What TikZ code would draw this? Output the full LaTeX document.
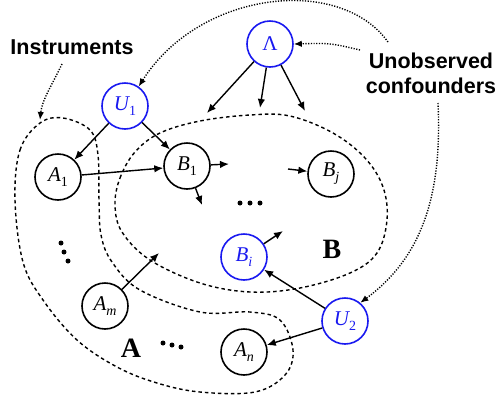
\documentclass[tikz,border=0pt]{standalone}
\usepackage{fontspec}
\setmainfont{Liberation Serif}
\setsansfont{Liberation Sans}
\usetikzlibrary{arrows.meta}
\definecolor{nodeblue}{RGB}{25,25,240}
\newcommand{\nlab}[2]{{\fontsize{21}{22}\selectfont\itshape #1}\raisebox{-5pt}{\fontsize{14}{14}\selectfont #2}}
\begin{document}
\begin{tikzpicture}[x=1pt,y=-1pt,
  vnode/.style={circle, draw, line width=1.6pt, minimum size=46pt, inner sep=0pt},
  bnode/.style={vnode, draw=nodeblue, text=nodeblue},
  arr/.style={-{Latex[length=9pt,width=7.5pt]}, line width=1.4pt},
  dotarr/.style={-{Latex[length=8pt,width=6.5pt]}, line width=1.4pt, dash pattern=on 1.2pt off 1.5pt},
  region/.style={dash pattern=on 3.5pt off 3pt, line width=1.4pt},
  biglab/.style={font=\fontsize{21.5}{25}\selectfont\sffamily\bfseries},
  setlab/.style={font=\fontsize{28}{30}\selectfont\bfseries},
  dotn/.style={circle, fill, inner sep=0pt, minimum size=5pt}]
\useasboundingbox (0,0) rectangle (499,400);

% regions
\draw[region] plot[smooth cycle, tension=0.6] coordinates {
  (15,200) (20,150) (40,123) (63,118) (90,130) (98,155) (99,200) (101,235)
  (112,262) (140,290) (200,312) (250,312) (280,320) (293,350) (285,375)
  (255,392) (200,392) (157,383) (117,367) (77,340) (43,300) (23,262)};
\draw[region] plot[smooth cycle, tension=0.6] coordinates {
  (115,205) (120,178) (135,152) (160,133) (200,121) (250,115) (290,116)
  (333,133) (365,158) (383,187) (387,220) (377,253) (350,273) (300,288)
  (250,292) (200,283) (150,260) (122,232)};

% nodes
\node[bnode] (U1) at (125,106) {\nlab{U}{1}};
\node[bnode] (L) at (270,44) {{\fontsize{21}{22}\selectfont Λ}};
\node[vnode] (A1) at (58,177) {\nlab{A}{1}};
\node[vnode] (B1) at (187,166) {\nlab{B}{1}};
\node[vnode] (Bj) at (331,174) {\nlab{B}{\textit{j}}};
\node[bnode] (Bi) at (244,257) {\nlab{B}{\textit{i}}};
\node[bnode] (U2) at (345,321) {\nlab{U}{2}};
\node[vnode] (Am) at (105,306) {\nlab{A}{\textit{m}}};
\node[vnode] (An) at (244,352) {\nlab{A}{\textit{n}}};

% labels
\node[biglab, anchor=base] (instr) at (72,54) {Instruments};
\node[biglab, align=center, anchor=base] (unobs) at (431,93) {Unobserved\\confounders};
\node[setlab] (setA) at (131,348) {A};
\node[setlab] (setB) at (332,249) {B};

% dots
\node[dotn] (d1) at (240,203) {};
\node[dotn] (d2) at (250,203) {};
\node[dotn] (d3) at (260,203) {};
\node[dotn] (d4) at (163,343) {};
\node[dotn] (d5) at (172,345) {};
\node[dotn] (d6) at (181,347) {};
\node[dotn] (d7) at (61,243) {};
\node[dotn] (d8) at (64,252) {};
\node[dotn] (d9) at (68,261) {};

% free ends
\coordinate (f1) at (207,113);
\coordinate (f2) at (260,108);
\coordinate (f3) at (305,111);
\coordinate (f4) at (229,164);
\coordinate (f5) at (202,205);
\coordinate (f6) at (288,169);
\coordinate (f7) at (283,231);
\coordinate (f8) at (159,253);

% solid arrows
\draw[arr] (U1) -- (A1);
\draw[arr] (U1) -- (B1);
\draw[arr] (A1) -- (B1);
\draw[arr] (L) -- (f1);
\draw[arr] (L) -- (f2);
\draw[arr] (L) -- (f3);
\draw[arr] (B1) -- (f4);
\draw[arr] (B1) -- (f5);
\draw[arr] (f6) -- (Bj);
\draw[arr] (Bi) -- (f7);
\draw[arr] (Am) -- (f8);
\draw[arr] (U2) -- (Bi);
\draw[arr] (U2) -- (An);

% dotted arrows
\coordinate (s1) at (62,64);
\coordinate (e1) at (40,120);
\coordinate (s2) at (388,42);
\coordinate (s3) at (360,50);
\coordinate (s4) at (438,103);
\draw[dotarr] (s1) .. controls (52,85) and (42,100) .. (e1);
\draw[dotarr] (s2) .. controls (340,-25) and (200,-10) .. (U1.55);
\draw[dotarr] (s3) .. controls (330,43) .. (L.east);
\draw[dotarr] (s4) .. controls (442,190) and (425,255) .. (U2.50);
\end{tikzpicture}
\end{document}
